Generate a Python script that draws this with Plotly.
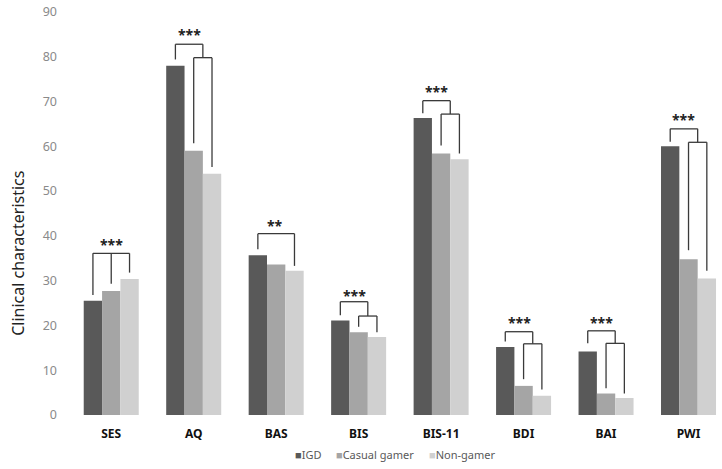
import plotly.graph_objects as go

categories = ["SES", "AQ", "BAS", "BIS", "BIS-11", "BDI", "BAI", "PWI"]
series_names = ["IGD", "Casual gamer", "Non-gamer"]
igd = [25.5, 78.0, 35.7, 21.1, 66.3, 15.2, 14.2, 60.0]
casual = [27.7, 59.0, 33.6, 18.5, 58.4, 6.5, 4.8, 34.8]
nongamer = [30.4, 53.9, 32.2, 17.4, 57.1, 4.3, 3.8, 30.5]
y_ticks = [0, 10, 20, 30, 40, 50, 60, 70, 80, 90]

# significance brackets: (category index, kind, heights...)
sig_labels = ["***", "***", "**", "***", "***", "***", "***", "***"]
brackets = [
    (0, "three", dict(top=36.1, l1=26.8, l2=29.3, l3=31.8, star=38.0)),
    (1, "nested", dict(h1=82.8, a=79.4, h2=79.8, b=60.7, c=55.4, star=84.9)),
    (2, "pair", dict(h=40.5, a=37.0, c=33.3, star=42.4)),
    (3, "nested", dict(h1=25.3, a=22.3, h2=22.1, b=19.7, c=18.5, star=26.8)),
    (4, "nested", dict(h1=70.2, a=67.4, h2=67.2, b=60.2, c=58.4, star=72.2)),
    (5, "nested", dict(h1=18.6, a=16.4, h2=15.9, b=8.0, c=5.7, star=20.6)),
    (6, "nested", dict(h1=18.8, a=16.0, h2=16.0, b=6.0, c=4.8, star=20.6)),
    (7, "nested", dict(h1=63.9, a=61.0, h2=60.9, b=36.8, c=32.2, star=66.0)),
]

colors = ["#595959", "#a5a5a5", "#d0d0d0"]
legend_x = [0.342, 0.405, 0.548]
xs = list(range(len(categories)))

fig = go.Figure()
for name, vals, col in zip(series_names, [igd, casual, nongamer], colors):
    fig.add_trace(go.Bar(x=xs, y=vals, name=name, showlegend=False,
                         marker=dict(color=col, line=dict(width=0))))

OFF = 0.222
line_style = dict(color="#3a3a3a", width=1.3)
shapes = []
annotations = []

def seg(x0, y0, x1, y1):
    shapes.append(dict(type="line", xref="x", yref="y", x0=x0, y0=y0, x1=x1, y1=y1, line=line_style))

for (i, kind, p), lab in zip(brackets, sig_labels):
    xl, xm, xr = i - OFF, i, i + OFF
    if kind == "three":
        seg(xl, p["l1"], xl, p["top"])
        seg(xl, p["top"], xr, p["top"])
        seg(xm, p["l2"], xm, p["top"])
        seg(xr, p["l3"], xr, p["top"])
        sx = i
    elif kind == "pair":
        seg(xl, p["a"], xl, p["h"])
        seg(xl, p["h"], xr, p["h"])
        seg(xr, p["c"], xr, p["h"])
        sx = i - 0.01
    else:
        xmid = i + OFF / 2
        seg(xl, p["a"], xl, p["h1"])
        seg(xl, p["h1"], xmid, p["h1"])
        seg(xmid, p["h2"], xmid, p["h1"])
        seg(xm, p["b"], xm, p["h2"])
        seg(xm, p["h2"], xr, p["h2"])
        seg(xr, p["c"], xr, p["h2"])
        sx = (xl + xmid) / 2
    annotations.append(dict(x=sx, y=p["star"], xref="x", yref="y", text="<b>" + lab + "</b>",
                            showarrow=False, yanchor="middle", xanchor="center",
                            font=dict(size=14, color="#222222", family="Noto Sans")))

annotations.append(dict(x=-0.08, y=0.402, xref="paper", yref="paper", text="Clinical characteristics",
                        textangle=-90, showarrow=False, xanchor="center", yanchor="middle",
                        font=dict(size=16, color="#222222", family="Noto Sans")))

for c, n, lx in zip(colors, series_names, legend_x):
    annotations.append(dict(x=lx, y=-0.099, xref="paper", yref="paper",
                            text='<span style="color:%s">■</span>%s' % (c, n),
                            showarrow=False, xanchor="left", yanchor="middle",
                            font=dict(size=11, color="#595959", family="Noto Sans")))

fig.update_layout(
    width=722, height=469,
    margin=dict(l=70, r=0, t=12, b=54),
    paper_bgcolor="white", plot_bgcolor="white",
    barmode="group", bargap=0.333, bargroupgap=0,
    font=dict(family="Noto Sans", size=12, color="#7f7f7f"),
    showlegend=False,
    shapes=shapes,
    annotations=annotations,
)
fig.update_xaxes(range=[-0.5, 7.406], tickvals=xs,
                 ticktext=["<b>" + c + "</b>" for c in categories],
                 tickfont=dict(size=12, color="#111111", family="Noto Sans"),
                 showgrid=False, zeroline=False, showline=False, ticks="", ticklabelstandoff=10)
fig.update_yaxes(range=[0, 90], tickvals=y_ticks, showgrid=False, zeroline=False, showline=False,
                 ticks="", ticklabelstandoff=12, tickfont=dict(size=12.5, color="#8a8a8a"))

fig.write_html("out.html", config={"displayModeBar": False},
               post_script="document.body.style.margin='0';document.body.style.padding='0';")
